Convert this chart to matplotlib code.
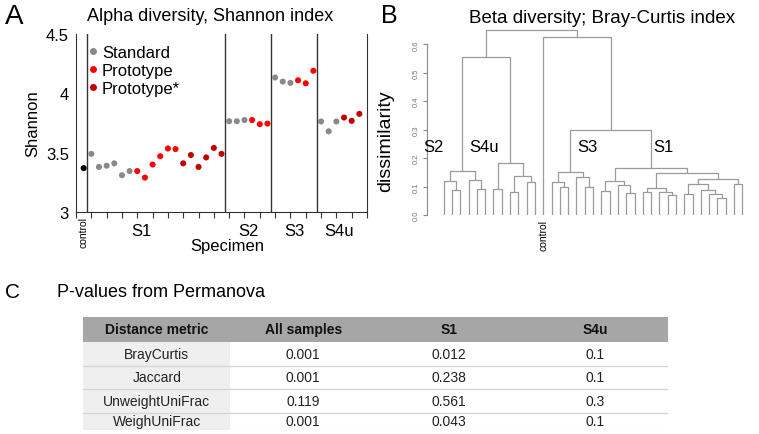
import matplotlib.pyplot as plt
from matplotlib.lines import Line2D
from matplotlib.patches import Rectangle
import numpy as np

plt.rcParams['font.family'] = ['Liberation Sans', 'DejaVu Sans']

# ---- panel A: Shannon index, one value per sample ----
shannon = [3.37,
           3.49, 3.38, 3.39, 3.41, 3.31, 3.345,
           3.345, 3.29, 3.40, 3.47, 3.535, 3.53,
           3.41, 3.48, 3.38, 3.46, 3.54, 3.49,
           3.765, 3.765, 3.775, 3.775, 3.74, 3.745,
           4.133, 4.099, 4.088, 4.11, 4.085, 4.19,
           3.763, 3.68, 3.763, 3.796, 3.768, 3.827]
kit = (['control'] + ['Standard'] * 6 + ['Prototype'] * 6 + ['Prototype*'] * 6
       + ['Standard'] * 3 + ['Prototype'] * 3
       + ['Standard'] * 3 + ['Prototype'] * 3
       + ['Standard'] * 3 + ['Prototype*'] * 3)
specimens = ['S1', 'S2', 'S3', 'S4u']
group_sizes = [18, 6, 6, 6]
kit_colors = {'control': 'black', 'Standard': '#898989',
              'Prototype': '#ff0000', 'Prototype*': '#c20000'}

# ---- panel B: Bray-Curtis hierarchical clustering (left, right, height) ----
# leaves are sample numbers in plotting order, 12 = control
s2 = ((0, (1, 2, 0.087), 0.118), (3, (4, 5, 0.091), 0.124), 0.156)
s4u = ((6, 7, 0.090), ((8, 9, 0.080), (10, 11, 0.115), 0.136), 0.182)
s3 = ((13, (14, 15, 0.097), 0.115), (16, (17, 18, 0.097), 0.135), 0.150)
s1a = ((19, 20, 0.086), (21, (22, 23, 0.078), 0.104), 0.118)
s1b = ((24, 25, 0.080), (26, (27, 28, 0.070), 0.082), 0.094)
s1c = (((29, 30, 0.074), (31, (32, (33, 34, 0.059), 0.074), 0.088), 0.109),
       (35, 36, 0.109), 0.127)
s1 = (s1a, (s1b, s1c, 0.147), 0.164)
tree = ((s2, s4u, 0.554), (12, (s3, s1, 0.300), 0.625), 0.650)
n_leaves = 37
control_leaf = 12

# ---- panel C: Permanova p-values ----
header = ['Distance metric', 'All samples', 'S1', 'S4u']
metrics = ['BrayCurtis', 'Jaccard', 'UnweightUniFrac', 'WeighUniFrac']
p_all = ['0.001', '0.001', '0.119', '0.001']
p_s1 = ['0.012', '0.238', '0.561', '0.043']
p_s4u = ['0.1', '0.1', '0.3', '0.1']

W, H = 759, 435
fig = plt.figure(figsize=(W / 100, H / 100), dpi=100)


def box(x0, y0, x1, y1):
    # pixel box (top-left origin) -> figure fraction rect
    return [x0 / W, 1 - y1 / H, (x1 - x0) / W, (y1 - y0) / H]


# ================= A =================
axa = fig.add_axes(box(76, 35, 367, 213))
x = np.arange(1, len(shannon) + 1)
axa.scatter(x, shannon, c=[kit_colors[k] for k in kit], s=19, linewidths=0, zorder=3)
bounds = np.cumsum([1] + group_sizes)[:-1] + 0.5
for b in bounds:
    axa.axvline(b, color='#333333', lw=1)
axa.set_xlim(0, 38)
axa.set_ylim(3, 4.5)
axa.spines['top'].set_visible(False)
for s in ['left', 'bottom', 'right']:
    axa.spines[s].set_color('#333333')
axa.set_xticks(np.arange(0, 39, 2))
axa.set_xticklabels([])
axa.tick_params(axis='x', length=4, color='#333333')
axa.set_yticks([3, 3.5, 4, 4.5])
axa.set_yticklabels(['3', '3.5', '4', '4.5'])
axa.tick_params(axis='y', length=0, pad=5, labelsize=12)
axa.set_ylabel('Shannon', fontsize=12, labelpad=4)
label_x = [8.5, 22.5, 28.5, 34.3]
for lx, name in zip(label_x, specimens):
    axa.text(lx, 2.84, name, ha='center', va='center', fontsize=12,
             transform=axa.transData, clip_on=False)
axa.text(1, 2.97, 'control', rotation=90, ha='center', va='top', fontsize=7.5)
axa.text(19.8, 2.72, 'Specimen', ha='center', va='center', fontsize=12)
axa.set_title('Alpha diversity, Shannon index', fontsize=13, pad=10, x=0.46)
handles = [Line2D([], [], ls='', marker='o', ms=5, mec='none',
                  mfc=kit_colors[k]) for k in ['Standard', 'Prototype', 'Prototype*']]
axa.legend(handles, ['Standard', 'Prototype', 'Prototype*'], loc='upper left',
           bbox_to_anchor=(-0.005, 1.015), frameon=False, fontsize=12,
           handlelength=0.6, handletextpad=0.25, labelspacing=0.18, borderpad=0.3)
fig.text(14 / W, 1 - 17 / H, 'A', fontsize=20, ha='center', va='center')

# ================= B =================
axb = fig.add_axes(box(426.7, 28.2, 754.8, 216))
line_kw = dict(color='#9b9b9b', lw=0.9, solid_capstyle='butt')


def draw(node):
    if isinstance(node, int):
        return node + 1, 0.0
    left, right, h = node
    xl, hl = draw(left)
    xr, hr = draw(right)
    axb.plot([xl, xl, xr, xr], [hl, h, h, hr], **line_kw)
    return (xl + xr) / 2, h


draw(tree)
axb.set_xlim(-1.05, 38.5)
axb.set_ylim(0, 0.66)
for s in ['top', 'right', 'bottom']:
    axb.spines[s].set_visible(False)
axb.spines['left'].set_bounds(0, 0.6)
axb.spines['left'].set_color('#8a8a8a')
axb.spines['left'].set_linewidth(0.8)
axb.set_xticks([])
axb.set_yticks(np.arange(0, 0.61, 0.1))
axb.set_yticklabels(['%.1f' % v for v in np.arange(0, 0.61, 0.1)],
                    rotation=90, va='center')
axb.tick_params(axis='y', length=3, width=0.8, color='#8a8a8a',
                labelsize=5.5, labelcolor='#777777', pad=2)
axb.set_ylabel('dissimilarity', fontsize=14)
axb.yaxis.set_label_coords(-0.098, 0.40)
axb.set_title('Beta diversity; Bray-Curtis index', fontsize=13.5, pad=4, x=0.534)
cluster_labels = [('S2', -0.2), ('S4u', 5.9), ('S3', 18.3), ('S1', 27.5)]
for name, lx in cluster_labels:
    axb.text(lx, 0.24, name, ha='center', va='center', fontsize=12)
axb.text(control_leaf + 1, -0.015, 'control', rotation=90, ha='center', va='top',
         fontsize=7.5)
fig.text(389 / W, 1 - 16 / H, 'B', fontsize=18, ha='center', va='center')

# ================= C =================
fig.text(13 / W, 1 - 293 / H, 'C', fontsize=15, ha='center', va='center')
fig.text(57 / W, 1 - 293 / H, 'P-values from Permanova', fontsize=13,
         ha='left', va='center')

axc = fig.add_axes(box(83.3, 318, 668, 431))
col_edges = [0, 147, 293, 439, 585]
row_edges = [0, 25, 48.5, 72, 95.5, 113]
axc.set_xlim(0, 585)
axc.set_ylim(113, 0)
axc.axis('off')
axc.add_patch(Rectangle((0, 0), 585, row_edges[1], color='#a6a6a6', lw=0))
axc.add_patch(Rectangle((0, row_edges[1]), col_edges[1], 113 - row_edges[1],
                        color='#efefef', lw=0))
for y in row_edges[2:-1]:
    axc.plot([0, 585], [y, y], color='#d6d6d6', lw=1)
axc.plot([0, 585], [112.5, 112.5], color='#ececec', lw=1)
centers = [(col_edges[i] + col_edges[i + 1]) / 2 for i in range(4)]
for cx, t in zip(centers, header):
    axc.text(cx, row_edges[1] / 2, t, ha='center', va='center', fontsize=10,
             fontweight='bold', color='#111111')
columns = [metrics, p_all, p_s1, p_s4u]
for j, col in enumerate(columns):
    for i, t in enumerate(col):
        yc = (row_edges[i + 1] + row_edges[i + 2]) / 2
        if i == len(col) - 1:
            yc = row_edges[i + 1] + 9
        axc.text(centers[j], yc, t, ha='center', va='center', fontsize=10,
                 color='#222222')

fig.savefig('out.png', dpi=100)
